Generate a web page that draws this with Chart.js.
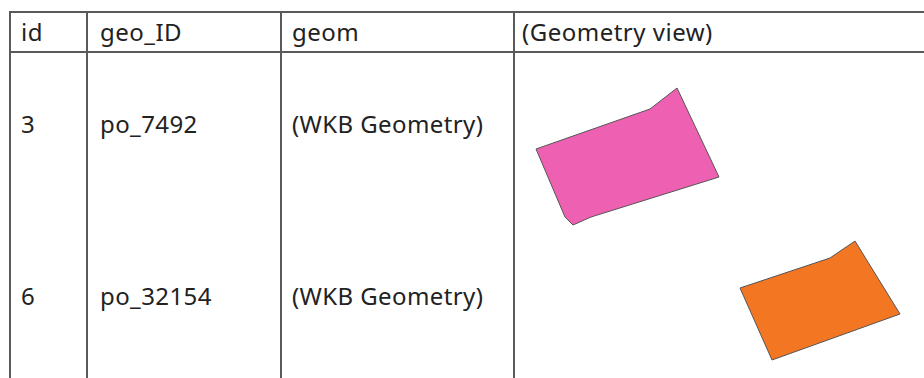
<!DOCTYPE html>
<html>
<head>
<meta charset="utf-8">
<script src="https://cdn.jsdelivr.net/npm/chart.js@4/dist/chart.umd.min.js"></script>
<style>
	html, body { margin: 0; padding: 0; background: #fff; }
	#page { position: relative; width: 924px; height: 378px; overflow: hidden; font-family: 'Noto Sans', sans-serif; color: #222; }
	.line { position: absolute; background: #5a5a5a; }
	.cell { position: absolute; white-space: nowrap; line-height: 1; }
	.head { font-size: 24px; letter-spacing: 0.5px; }
	.row { font-size: 24px; letter-spacing: 0.4px; }
	#geoWrap { position: absolute; left: 515px; top: 53px; width: 409px; height: 325px; }
</style>
</head>
<body>
<div id="page">
	<div id="grid"></div>
	<div id="texts"></div>
	<div id="geoWrap"><canvas id="geoChart" width="409" height="325"></canvas></div>
</div>
<script>
// table content
const headers = ['id', 'geo_ID', 'geom', '(Geometry view)'];
const ids = ['3', '6'];
const geoIds = ['po_7492', 'po_32154'];
const geoms = ['(WKB Geometry)', '(WKB Geometry)'];

// polygon rings (local view units, y down)
const ringPink = [
	{ x: 21, y: 96 }, { x: 135, y: 56 }, { x: 162, y: 35 }, { x: 204, y: 124 },
	{ x: 76, y: 164 }, { x: 58, y: 172 }, { x: 50, y: 164 }, { x: 21, y: 96 },
];
const ringOrange = [
	{ x: 225, y: 235 }, { x: 315, y: 205 }, { x: 340, y: 188 }, { x: 385, y: 261 },
	{ x: 257, y: 307 }, { x: 225, y: 235 },
];
const fills = ['#ee60b2', '#f37623'];

function qs(id) {
	return document.getElementById(id);
}

function addLine(left, top, width, height) {
	const el = document.createElement('div');
	el.className = 'line';
	el.style.left = `${left}px`;
	el.style.top = `${top}px`;
	el.style.width = `${width}px`;
	el.style.height = `${height}px`;
	qs('grid').appendChild(el);
}

function addText(text, cls, left, centerY) {
	const el = document.createElement('div');
	el.className = `cell ${cls}`;
	el.textContent = text;
	el.style.left = `${left}px`;
	el.style.top = `${centerY - 13}px`;
	qs('texts').appendChild(el);
}

document.addEventListener('DOMContentLoaded', () => {
	const colX = [9, 86, 280, 513];
	const textX = [21, 100, 292, 522];

	// borders
	addLine(9, 11, 915, 2);
	addLine(9, 51, 915, 2);
	colX.forEach((x) => addLine(x, 11, 2, 367));

	headers.forEach((h, i) => addText(h, 'head', textX[i], 33));
	const rowY = [125, 297];
	ids.forEach((id, r) => {
		addText(id, 'row', textX[0], rowY[r]);
		addText(geoIds[r], 'row', textX[1], rowY[r]);
		addText(geoms[r], 'row', textX[2], rowY[r]);
	});

	const ds = (data, color) => ({
		data,
		showLine: true,
		fill: 'shape',
		backgroundColor: color,
		borderColor: '#555',
		borderWidth: 1,
		pointRadius: 0,
		tension: 0,
	});

	// eslint-disable-next-line no-new
	new Chart(qs('geoChart'), {
		type: 'scatter',
		data: {
			datasets: [ds(ringPink, fills[0]), ds(ringOrange, fills[1])],
		},
		options: {
			responsive: false,
			animation: false,
			events: [],
			layout: { padding: 0 },
			plugins: { legend: { display: false }, tooltip: { enabled: false } },
			scales: {
				x: { type: 'linear', min: 0, max: 409, display: false },
				y: { type: 'linear', min: 0, max: 325, reverse: true, display: false },
			},
		},
	});
});
</script>
</body>
</html>
